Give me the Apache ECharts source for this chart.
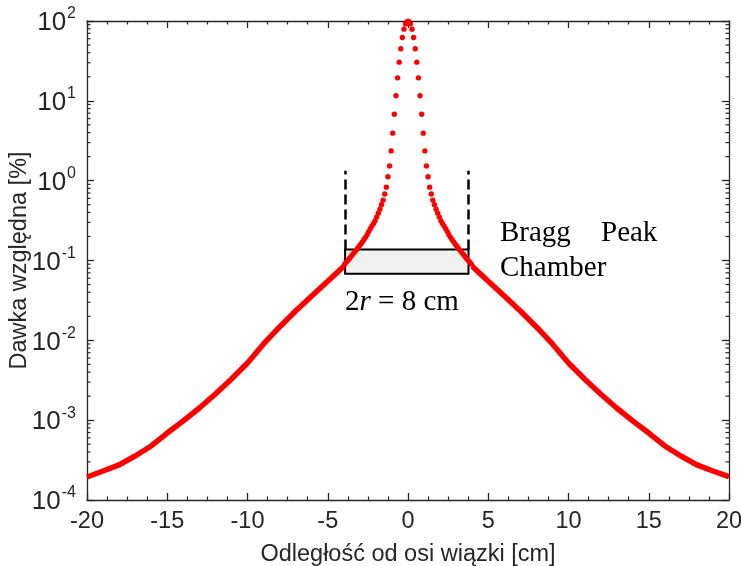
<!DOCTYPE html>
<html>
<head>
<meta charset="utf-8">
<script src="https://cdn.jsdelivr.net/npm/echarts@6/dist/echarts.min.js"></script>
<style>html,body{margin:0;padding:0;background:#fff}#c{width:741px;height:566px}</style>
</head>
<body>
<div id="c"></div>
<script>
// ---- data ----
const tailLeftX = [-20,-19,-18,-17,-16,-15,-14,-13,-12,-11,-10,-9,-8,-7,-6,-5,-4];
const tailLeftY = [1.94e-4,2.31e-4,2.75e-4,3.56e-4,4.75e-4,6.9e-4,9.8e-4,1.42e-3,2.13e-3,3.28e-3,5.2e-3,9.0e-3,1.47e-2,2.33e-2,3.6e-2,5.5e-2,8.5e-2];
const tailRightX = [4,5,6,7,8,9,10,11,12,13,14,15,16,17,18,19,20];
const tailRightY = [8.5e-2,5.5e-2,3.6e-2,2.33e-2,1.47e-2,9.0e-3,5.2e-3,3.28e-3,2.13e-3,1.42e-3,9.8e-4,6.9e-4,4.75e-4,3.56e-4,2.75e-4,2.31e-4,1.96e-4];
const coreX = [-3.95,-3.85,-3.75,-3.65,-3.55,-3.45,-3.35,-3.25,-3.15,-3.05,-2.95,-2.85,-2.75,-2.65,-2.55,-2.45,-2.35,-2.25,-2.15,-2.05,-1.95,-1.85,-1.75,-1.65,-1.55,-1.45,-1.35,-1.25,-1.15,-1.05,-0.95,-0.85,-0.75,-0.65,-0.55,-0.45,-0.35,-0.25,-0.15,-0.05,
  0.05,0.15,0.25,0.35,0.45,0.55,0.65,0.75,0.85,0.95,1.05,1.15,1.25,1.35,1.45,1.55,1.65,1.75,1.85,1.95,2.05,2.15,2.25,2.35,2.45,2.55,2.65,2.75,2.85,2.95,3.05,3.15,3.25,3.35,3.45,3.55,3.65,3.75,3.85,3.95];
const coreY = [0.090,0.095,0.100,0.106,0.112,0.119,0.126,0.133,0.141,0.150,0.160,0.170,0.182,0.195,0.21,0.23,0.25,0.27,0.29,0.315,0.35,0.39,0.44,0.50,0.57,0.68,0.83,1.12,1.53,2.36,3.94,6.8,11.6,19.4,30.5,45,62,79,92,99,
  99,92,79,62,45,30.5,19.4,11.6,6.8,3.94,2.36,1.53,1.12,0.83,0.68,0.57,0.50,0.44,0.39,0.35,0.315,0.29,0.27,0.25,0.23,0.21,0.195,0.182,0.170,0.160,0.150,0.141,0.133,0.126,0.119,0.112,0.106,0.100,0.095,0.090];
const yTickExps = [-4,-3,-2,-1,0,1,2];
const minorMultipliers = [2,3,4,5,6,7,8,9];
const chamberX = [-3.92, 3.77];
const chamberY = [0.068, 0.137];
const dashTopY = 1.33;
const xTitle = 'Odległość od osi wiązki [cm]';
const yTitle = 'Dawka względna [%]';

// ---- chart ----
const axisColor = '#262626';
const sans = 'Liberation Sans, Arial, sans-serif';
const serif = 'Liberation Serif, Times New Roman, serif';
const chart = echarts.init(document.getElementById('c'));

const tailData = tailLeftX.map((x,i)=>[x,tailLeftY[i]]).concat([[null,null]]).concat(tailRightX.map((x,i)=>[x,tailRightY[i]]));
const coreData = coreX.map((x,i)=>[x,coreY[i]]);
const minorVals = [];
yTickExps.slice(0,-1).forEach(e=>minorMultipliers.forEach(m=>minorVals.push(m*Math.pow(10,e))));

const yLabelFmt = v => { const e = Math.round(Math.log10(v)); return '{b|10}{s|' + e + '}'; };
const lineAx = {show: true, onZero: false, lineStyle: {color: axisColor, width: 1.3}};
const tickAx = {inside: true, length: 7, lineStyle: {color: axisColor, width: 1.3}};

chart.setOption({
  animation: false,
  grid: {left: 87, right: 12, top: 21, bottom: 66, containLabel: false, outerBoundsMode: 'none'},
  xAxis: [{
    type: 'value', min: -20, max: 20, interval: 5,
    name: xTitle, nameLocation: 'middle', nameGap: 43, nameMoveOverlap: false,
    nameTextStyle: {fontFamily: sans, fontSize: 23.5, color: axisColor},
    axisLine: lineAx, axisTick: tickAx,
    minorTick: {show: true, splitNumber: 4, length: 3.5, lineStyle: {color: axisColor, width: 1.2}},
    axisLabel: {fontFamily: sans, fontSize: 23.5, color: axisColor, margin: 10},
    splitLine: {show: false}
  },{
    type: 'value', min: -20, max: 20, interval: 5, position: 'top',
    axisLine: lineAx, axisTick: tickAx,
    minorTick: {show: true, splitNumber: 4, length: 3.5, lineStyle: {color: axisColor, width: 1.2}},
    axisLabel: {show: false}, splitLine: {show: false}
  }],
  yAxis: [{
    type: 'log', logBase: 10, min: 1e-4, max: 100,
    name: yTitle, nameLocation: 'middle', nameGap: 55, nameMoveOverlap: false,
    nameTextStyle: {fontFamily: sans, fontSize: 23.5, color: axisColor},
    axisLine: lineAx, axisTick: tickAx,
    minorTick: {show: false},
    axisLabel: {margin: 11, formatter: yLabelFmt, rich: {
      b: {fontFamily: sans, fontSize: 26, color: axisColor, verticalAlign: 'bottom', lineHeight: 30},
      s: {fontFamily: sans, fontSize: 16, color: axisColor, verticalAlign: 'top', lineHeight: 30, padding: [0,0,13,1]}
    }},
    splitLine: {show: false}
  },{
    type: 'log', logBase: 10, min: 1e-4, max: 100, position: 'right',
    axisLine: lineAx, axisTick: tickAx,
    axisLabel: {show: false}, splitLine: {show: false}
  }],
  series: [
    {
      type: 'custom', name: 'minorTicks', silent: true, z: 1,
      data: minorVals.map(v=>[v]),
      renderItem: (params, api) => {
        const v = api.value(0);
        const p = api.coord([-20, v]);
        const q = api.coord([20, v]);
        return {type: 'group', children: [
          {type: 'line', shape: {x1: p[0], y1: p[1], x2: p[0]+3.5, y2: p[1]}, style: {stroke: axisColor, lineWidth: 1.2}},
          {type: 'line', shape: {x1: q[0], y1: q[1], x2: q[0]-3.5, y2: q[1]}, style: {stroke: axisColor, lineWidth: 1.2}}
        ]};
      },
      encode: {y: 0}
    },
    {
      type: 'line', data: tailData, showSymbol: false, connectNulls: false, z: 2,
      lineStyle: {color: '#ff0000', width: 5.5}, itemStyle: {color: '#ff0000'}
    },
    {
      type: 'scatter', data: coreData, symbol: 'circle', symbolSize: 5.4, z: 2, clip: false,
      itemStyle: {color: '#ff0000', opacity: 1}
    },
    {
      type: 'line', data: [], z: 5,
      markArea: {silent: true, itemStyle: {color: '#f0f0f0', borderColor: '#000', borderWidth: 2, opacity: 1},
        data: [[{coord: [chamberX[0], chamberY[0]]}, {coord: [chamberX[1], chamberY[1]]}]]},
      markLine: {silent: true, symbol: 'none', label: {show: false},
        lineStyle: {color: '#000', width: 2.5, type: [10, 5]},
        data: chamberX.map(x => [{coord: [x, chamberY[1]]}, {coord: [x, dashTopY]}])}
    }
  ],
  graphic: [
    {type: 'text', left: 500, top: 219, style: {text: 'Bragg', font: '29px ' + serif, fill: '#000'}},
    {type: 'text', left: 601, top: 219, style: {text: 'Peak', font: '29px ' + serif, fill: '#000'}},
    {type: 'text', left: 500, top: 254, style: {text: 'Chamber', font: '29px ' + serif, fill: '#000'}},
    {type: 'text', left: 345, top: 288, style: {
      text: '{n|2}{i|r}{n| = 8 cm}',
      rich: {n: {font: '29px ' + serif, fill: '#000'}, i: {font: 'italic 29px ' + serif, fill: '#000'}}
    }}
  ]
});
</script>
</body>
</html>
